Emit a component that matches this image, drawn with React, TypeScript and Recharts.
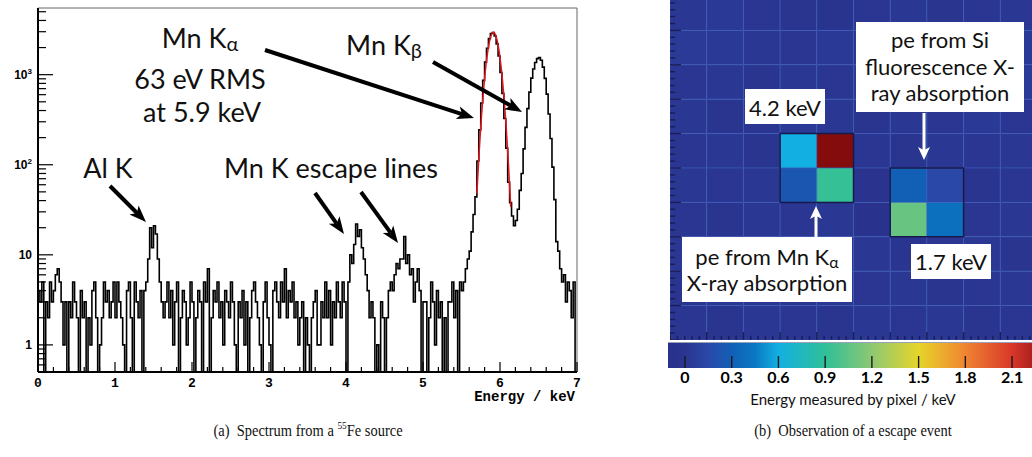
import React from 'react';
import { ComposedChart, Line, Scatter, XAxis, YAxis, ReferenceLine, ReferenceArea } from 'recharts';

// 55Fe spectrum, counts per 25 eV bin starting at 0 keV
const BIN_KEV = 0.025;
const Y_MIN = 0.5;
const Y_MAX = 5500;

const counts0to1 = [4, 3, 5, 0, 3, 2, 5, 3, 4, 6, 7, 5, 3, 1, 3, 0, 3, 2, 5, 3, 2, 0, 4, 2, 3, 0, 2, 1, 4, 5, 2, 0, 1, 2, 5, 3, 4, 2, 3, 5];
const counts1to2 = [2, 5, 3, 2, 1, 0, 4, 5, 2, 0, 5, 3, 2, 4, 0, 4, 5, 9, 20, 12, 21, 17, 9, 5, 3, 2, 3, 5, 2, 4, 1, 3, 5, 0, 2, 4, 3, 1, 2, 5];
const counts2to3 = [3, 0, 2, 4, 3, 0, 5, 3, 7, 0, 2, 4, 3, 5, 2, 3, 1, 4, 3, 2, 5, 3, 1, 0, 3, 2, 4, 1, 3, 0, 2, 4, 5, 3, 2, 1, 0, 3, 5, 2];
const counts3to4 = [1, 0, 4, 5, 3, 2, 5, 3, 7, 2, 4, 3, 5, 2, 3, 1, 2, 3, 0, 2, 1, 0, 2, 3, 4, 1, 1, 3, 2, 5, 2, 4, 1, 3, 2, 5, 3, 2, 5, 3];
const counts4to5 = [0, 5, 10, 8, 13, 22, 16, 19, 12, 9, 6, 4, 2, 3, 2, 0, 1, 0, 3, 2, 0, 2, 4, 5, 4, 6, 8, 7, 9, 9, 16, 8, 10, 6, 7, 3, 5, 7, 4, 0];
const counts5to55 = [3, 3, 0, 2, 5, 3, 1, 4, 2, 3, 0, 2, 0, 3, 3, 5, 2, 4, 0, 5];
const countsPeaks = [
  4, 5, 7, 9, 11, 18, 28, 44, 110, 244,
  485, 865, 1379, 1968, 2513, 2871, 2935, 2686, 2199, 1611,
  1056, 619, 326, 153, 64, 38, 27, 21, 24, 32,
  52, 80, 150, 260, 420, 640, 916, 1158, 1367, 1507,
  1550, 1449, 1213, 909, 609, 366, 196, 94, 41, 14,
  11, 7, 5, 6, 3, 5, 4, 2, 5, 0,
];

// gaussian fit of the Mn K-alpha line
const fitKeV = [5.7, 5.72, 5.74, 5.76, 5.78, 5.8, 5.82, 5.84, 5.86, 5.88, 5.9, 5.915, 5.93, 5.95, 5.97, 5.99, 6.01, 6.03, 6.05, 6.07, 6.09, 6.11, 6.13, 6.14];
const fitCounts = [48, 100, 194, 349, 584, 910, 1323, 1789, 2255, 2646, 2891, 2950, 2891, 2646, 2255, 1789, 1323, 910, 584, 349, 194, 100, 48, 34];

const xMajorTicks = [0, 1, 2, 3, 4, 5, 6, 7];
const yDecades = [1, 10, 100, 1000];
const yDecadeExp = [0, 1, 2, 3];
const yMinorTicks = [0.6, 0.7, 0.8, 0.9, 2, 3, 4, 5, 6, 7, 8, 9, 20, 30, 40, 50, 60, 70, 80, 90, 200, 300, 400, 500, 600, 700, 800, 900, 2000, 3000, 4000, 5000];

// pixel map, energy per pixel in keV, rows top to bottom
const pixelKeV = [
  [0.02, 0.03, 0.01, 0.0, -0.04, 0.01, 0.02, 0.0, 0.01, 0.02],
  [0.04, 0.03, 0.02, 0.01, 0.03, 0.0, 0.02, 0.05, 0.01, 0.03],
  [0.01, 0.02, 0.0, 0.02, 0.01, 0.03, 0.01, 0.0, 0.02, 0.04],
  [0.02, 0.0, 0.01, 0.03, 0.02, 0.0, 0.02, 0.01, 0.03, 0.01],
  [0.01, 0.02, 0.0, 0.6, 2.4, 0.01, 0.0, 0.02, 0.01, 0.02],
  [0.02, 0.01, 0.02, 0.24, 0.92, -0.02, 0.3, 0.15, 0.0, 0.01],
  [0.01, 0.0, 0.02, 0.01, 0.02, -0.05, 1.08, 0.4, 0.01, 0.02],
  [0.02, 0.01, 0.0, 0.02, 0.01, 0.02, 0.0, 0.01, 0.02, 0.0],
  [0.0, 0.02, 0.01, 0.0, 0.02, 0.01, 0.02, 0.0, 0.01, 0.02],
  [0.01, 0.0, 0.02, 0.01, 0.0, 0.02, 0.01, 0.02, 0.0, 0.01],
];
const clusters = [
  { c0: 3, c1: 5, r0: 4, r1: 6 },
  { c0: 6, c1: 8, r0: 5, r1: 7 },
];

const colorbarTicks = [0, 0.3, 0.6, 0.9, 1.2, 1.5, 1.8, 2.1];
const cmapKeV = [-0.11, 0, 0.15, 0.3, 0.45, 0.6, 0.9, 1.2, 1.5, 1.8, 2.1, 2.25, 2.4];
const cmapColors = ['#28318c', '#2a3590', '#2a48a8', '#1160b6', '#0a78c4', '#12b0e2', '#30bf98', '#8ec872', '#e6d52a', '#f08432', '#d8382a', '#a61c1c', '#840c0c'];
const CB_MIN = -0.109;
const CB_MAX = 2.228;

const allCounts = [...counts0to1, ...counts1to2, ...counts2to3, ...counts3to4, ...counts4to5, ...counts5to55, ...countsPeaks];
const histData = allCounts.map((n, i) => ({ e: +(i * BIN_KEV).toFixed(3), n: Math.max(n, Y_MIN) }));
histData.push({ e: 7, n: Math.max(allCounts[allCounts.length - 1], Y_MIN) });
const fitData = fitKeV.map((e, i) => ({ e, f: fitCounts[i] }));

const xTicks: number[] = [];
for (let i = 0; i <= 35; i++) xTicks.push(+(i * 0.2).toFixed(1));
const yTicks = [...yDecades, ...yMinorTicks].sort((a, b) => a - b);

const NROW = pixelKeV.length;
const NCOL = pixelKeV[0].length;
const heatTicks: number[] = [];
for (let i = 0; i <= NROW * 5; i++) heatTicks.push(+(i * 0.2).toFixed(1));
const isWhole = (t: number) => Math.abs(t - Math.round(t)) < 1e-6;
const pixelCentres = pixelKeV.flatMap((row, r) => row.map((v, c) => ({ col: c + 0.5, row: NROW - r - 0.5, v })));
const cbAnchors = colorbarTicks.map((t) => ({ k: t, y: 0.5 }));

const hexToRgb = (h: string) => [1, 3, 5].map((i) => parseInt(h.slice(i, i + 2), 16));
const colorAt = (v: number) => {
  if (v <= cmapKeV[0]) return cmapColors[0];
  for (let i = 1; i < cmapKeV.length; i++) {
    if (v <= cmapKeV[i]) {
      const t = (v - cmapKeV[i - 1]) / (cmapKeV[i] - cmapKeV[i - 1]);
      const a = hexToRgb(cmapColors[i - 1]);
      const b = hexToRgb(cmapColors[i]);
      const c = a.map((x, k) => Math.round(x + (b[k] - x) * t));
      return `rgb(${c[0]},${c[1]},${c[2]})`;
    }
  }
  return cmapColors[cmapColors.length - 1];
};

const gill = "Lato, 'Noto Sans', sans-serif";
const mono = "'Liberation Mono', 'DejaVu Sans Mono', monospace";

const NoMark = () => <g />;

const SpecXTick = (props: any) => {
  const { x, y, payload } = props;
  const v = payload.value;
  const major = xMajorTicks.includes(v);
  return (
    <g>
      <line x1={x} x2={x} y1={y} y2={y - (major ? 10 : 5)} stroke="#000" strokeWidth={1.2} />
      {major && (
        <text x={x} y={y + 15} textAnchor="middle" fontFamily={mono} fontWeight="bold" fontSize={13} fill="#000">
          {v}
        </text>
      )}
    </g>
  );
};

const SpecYTick = (props: any) => {
  const { x, y, payload } = props;
  const v = payload.value;
  const idx = yDecades.indexOf(v);
  const major = idx >= 0;
  const exp = major ? yDecadeExp[idx] : 0;
  return (
    <g>
      <line x1={x} x2={x + (major ? 15 : 8)} y1={y} y2={y} stroke="#000" strokeWidth={1.2} />
      {major && (
        <text x={x - 6} y={y + 4} textAnchor="end" fontFamily="'Liberation Sans', Arial, sans-serif" fontWeight="bold" fontSize={12} fill="#000">
          {exp < 2 ? String(v) : '10'}
          {exp >= 2 && (
            <tspan dy={-5} fontSize={8}>
              {exp}
            </tspan>
          )}
        </text>
      )}
    </g>
  );
};

const CbLabel = (props: any) => {
  const { x, y, payload } = props;
  const v = payload.value;
  return (
    <text x={x} y={y + 15} textAnchor="middle" fontFamily={gill} fontWeight="bold" fontSize={16} fill="#000">
      {v === 0 ? '0' : v.toFixed(1)}
    </text>
  );
};

const SpectrumChart = () => (
  <ComposedChart width={600} height={410} data={histData} margin={{ top: 8, right: 23, bottom: 8, left: 0 }}>
    <ReferenceLine y={Y_MAX} stroke="#666" strokeWidth={1} />
    <ReferenceLine x={7} stroke="#666" strokeWidth={1} />
    <Line dataKey="n" type="stepAfter" stroke="#000" strokeWidth={1.6} dot={false} isAnimationActive={false} />
    <Line data={fitData} dataKey="f" type="monotone" stroke="#e3161b" strokeWidth={1.5} dot={false} isAnimationActive={false} />
    <XAxis
      dataKey="e"
      type="number"
      domain={[0, 7]}
      allowDataOverflow
      ticks={xTicks}
      interval={0}
      tickSize={0}
      tickMargin={0}
      tickLine={false}
      tick={<SpecXTick />}
      height={30}
      axisLine={{ stroke: '#000', strokeWidth: 2 }}
    />
    <YAxis
      type="number"
      scale="log"
      domain={[Y_MIN, Y_MAX]}
      allowDataOverflow
      ticks={yTicks}
      interval={0}
      tickSize={0}
      tickMargin={0}
      tickLine={false}
      tick={<SpecYTick />}
      width={38}
      axisLine={{ stroke: '#000', strokeWidth: 2 }}
    />
  </ComposedChart>
);

// tick lengths on the pixel map, in cell units
const HEAT_LEFT_MAJOR = 0.3;
const HEAT_LEFT_MINOR = 0.14;
const HEAT_BOTTOM_MAJOR = 0.23;
const HEAT_BOTTOM_MINOR = 0.12;

const PixelMap = () => (
  <ComposedChart width={367} height={344} margin={{ top: 0, right: 0, bottom: 0, left: 0 }}>
    <Scatter data={pixelCentres} dataKey="row" shape={<NoMark />} isAnimationActive={false} />
    {pixelKeV.map((row, r) =>
      row.map((v, c) => (
        <ReferenceArea
          key={`p${r}-${c}`}
          x1={c}
          x2={c + 1}
          y1={NROW - 1 - r}
          y2={NROW - r}
          fill={colorAt(v)}
          fillOpacity={1}
          stroke="#3a5cbc"
          strokeOpacity={0.55}
          strokeWidth={1}
        />
      ))
    )}
    {clusters.map((k, i) => (
      <ReferenceArea
        key={`c${i}`}
        x1={k.c0}
        x2={k.c1}
        y1={NROW - k.r1}
        y2={NROW - k.r0}
        fill="none"
        fillOpacity={0}
        stroke="#161a4a"
        strokeWidth={1.5}
      />
    ))}
    {heatTicks.map((t) => (
      <ReferenceLine
        key={`ly${t}`}
        segment={[
          { x: 0, y: t },
          { x: isWhole(t) ? HEAT_LEFT_MAJOR : HEAT_LEFT_MINOR, y: t },
        ]}
        stroke="#1b1d55"
        strokeWidth={1.4}
      />
    ))}
    {heatTicks.map((t) => (
      <ReferenceLine
        key={`bx${t}`}
        segment={[
          { x: t, y: 0 },
          { x: t, y: isWhole(t) ? HEAT_BOTTOM_MAJOR : HEAT_BOTTOM_MINOR },
        ]}
        stroke="#1b1d55"
        strokeWidth={1.4}
      />
    ))}
    <XAxis dataKey="col" type="number" domain={[0, NCOL]} allowDataOverflow hide />
    <YAxis dataKey="row" type="number" domain={[0, NROW]} allowDataOverflow hide />
  </ComposedChart>
);

const gradStops = () => {
  const span = CB_MAX - CB_MIN;
  const stops = [{ o: 0, c: colorAt(CB_MIN) }];
  cmapKeV.forEach((k, i) => {
    if (k > CB_MIN && k < CB_MAX) stops.push({ o: (k - CB_MIN) / span, c: cmapColors[i] });
  });
  stops.push({ o: 1, c: colorAt(CB_MAX) });
  return stops;
};

const ColorBar = () => (
  <ComposedChart width={364} height={50} margin={{ top: 0, right: 0, bottom: 0, left: 0 }}>
    <defs>
      <linearGradient id="cbGrad" x1="0" y1="0" x2="1" y2="0">
        {gradStops().map((s, i) => (
          <stop key={i} offset={s.o} stopColor={s.c} />
        ))}
      </linearGradient>
    </defs>
    <Scatter data={cbAnchors} dataKey="y" shape={<NoMark />} isAnimationActive={false} />
    <ReferenceArea x1={CB_MIN} x2={CB_MAX} y1={0} y2={1} fill="url(#cbGrad)" fillOpacity={1} stroke="none" />
    {colorbarTicks.map((t) => (
      <ReferenceLine
        key={`cb${t}`}
        segment={[
          { x: t, y: 0 },
          { x: t, y: 0.48 },
        ]}
        stroke="#1a1a1a"
        strokeWidth={1.4}
      />
    ))}
    <XAxis
      dataKey="k"
      type="number"
      domain={[CB_MIN, CB_MAX]}
      allowDataOverflow
      ticks={colorbarTicks}
      interval={0}
      tickSize={0}
      tickMargin={0}
      tickLine={false}
      axisLine={false}
      tick={<CbLabel />}
      height={25}
    />
    <YAxis dataKey="y" type="number" domain={[0, 1]} allowDataOverflow hide />
  </ComposedChart>
);

const Arrow = ({ x1, y1, x2, y2, color = '#000', w = 4, len = 17, hw = 13 }: any) => {
  const L = Math.hypot(x2 - x1, y2 - y1);
  const ux = (x2 - x1) / L;
  const uy = (y2 - y1) / L;
  const bx = x2 - ux * len;
  const by = y2 - uy * len;
  const nx = bx + ux * len * 0.25;
  const ny = by + uy * len * 0.25;
  const px = -uy * (hw / 2);
  const py = ux * (hw / 2);
  return (
    <g>
      <line x1={x1} y1={y1} x2={nx} y2={ny} stroke={color} strokeWidth={w} />
      <polygon points={`${x2},${y2} ${bx + px},${by + py} ${nx},${ny} ${bx - px},${by - py}`} fill={color} />
    </g>
  );
};

const Box = ({ x, y, w, h }: any) => <rect x={x} y={y} width={w} height={h} fill="#fff" />;

const Annotations = () => (
  <svg width={1032} height={457} style={{ position: 'absolute', left: 0, top: 0, pointerEvents: 'none' }}>
    <g fontFamily={gill} fontSize={27} fill="#111" textAnchor="middle">
      <text x={200} y={48}>
        Mn K<tspan fontSize={20} dy={3}>α</tspan>
      </text>
      <text x={200} y={89}>63 eV RMS</text>
      <text x={202} y={122}>at 5.9 keV</text>
      <text x={384} y={55}>
        Mn K<tspan fontSize={20} dy={3}>β</tspan>
      </text>
      <text x={108} y={178}>Al K</text>
      <text x={331} y={178}>Mn K escape lines</text>
    </g>
    <Arrow x1={265} y1={50} x2={474} y2={118} />
    <Arrow x1={433} y1={62} x2={522} y2={112} />
    <Arrow x1={110} y1={186} x2={146} y2={222} />
    <Arrow x1={315} y1={193} x2={344} y2={234} />
    <Arrow x1={361} y1={192} x2={398} y2={243} />
    <text x={575} y={401} textAnchor="end" fontFamily={mono} fontWeight="bold" fontSize={14} fill="#000">
      Energy / keV
    </text>

    <line x1={668} x2={1032} y1={342.5} y2={342.5} stroke="#9aa0b8" strokeWidth={1} />
    <Box x={745} y={89} w={80} h={35} />
    <Box x={856} y={22} w={168} h={90} />
    <Box x={682} y={237} w={170} h={65} />
    <Box x={911} y={244} w={80} h={35} />
    <g fontFamily={gill} fontSize={22} fill="#111" textAnchor="middle">
      <text x={785} y={116}>4.2 keV</text>
      <text x={940} y={48}>pe from Si</text>
      <text x={940} y={75}>fluorescence X-</text>
      <text x={940} y={101}>ray absorption</text>
      <text x={767} y={265}>
        pe from Mn K<tspan fontSize={16} dy={3}>α</tspan>
      </text>
      <text x={767} y={291}>X-ray absorption</text>
      <text x={951} y={270}>1.7 keV</text>
    </g>
    <Arrow x1={924} y1={113} x2={924} y2={160} color="#fff" w={3} len={13} hw={12} />
    <Arrow x1={816} y1={237} x2={816} y2={206} color="#fff" w={3} len={13} hw={12} />
    <text x={853} y={405} textAnchor="middle" fontFamily={gill} fontSize={15} fill="#111">
      Energy measured by pixel / keV
    </text>
  </svg>
);

const captionStyle: React.CSSProperties = {
  position: 'absolute',
  top: 421,
  width: 400,
  textAlign: 'center',
  fontFamily: "'Liberation Serif', 'Times New Roman', serif",
  fontSize: 17,
  lineHeight: '20px',
  whiteSpace: 'pre',
  color: '#111',
  transform: 'scaleX(0.85)',
};

export default function App() {
  return (
    <div style={{ position: 'absolute', left: 0, top: 0, width: 1032, height: 457, overflow: 'hidden', background: '#fff' }}>
      <div style={{ position: 'absolute', left: 0, top: 0 }}>
        <SpectrumChart />
      </div>
      <div style={{ position: 'absolute', left: 670, top: -4.5 }}>
        <PixelMap />
      </div>
      <div style={{ position: 'absolute', left: 668, top: 343 }}>
        <ColorBar />
      </div>
      <Annotations />
      <div style={{ ...captionStyle, left: 108 }}>
        (a)  Spectrum from a <sup style={{ fontSize: 11, lineHeight: 0 }}>55</sup>Fe source
      </div>
      <div style={{ ...captionStyle, left: 653 }}>(b)  Observation of a escape event</div>
    </div>
  );
}
